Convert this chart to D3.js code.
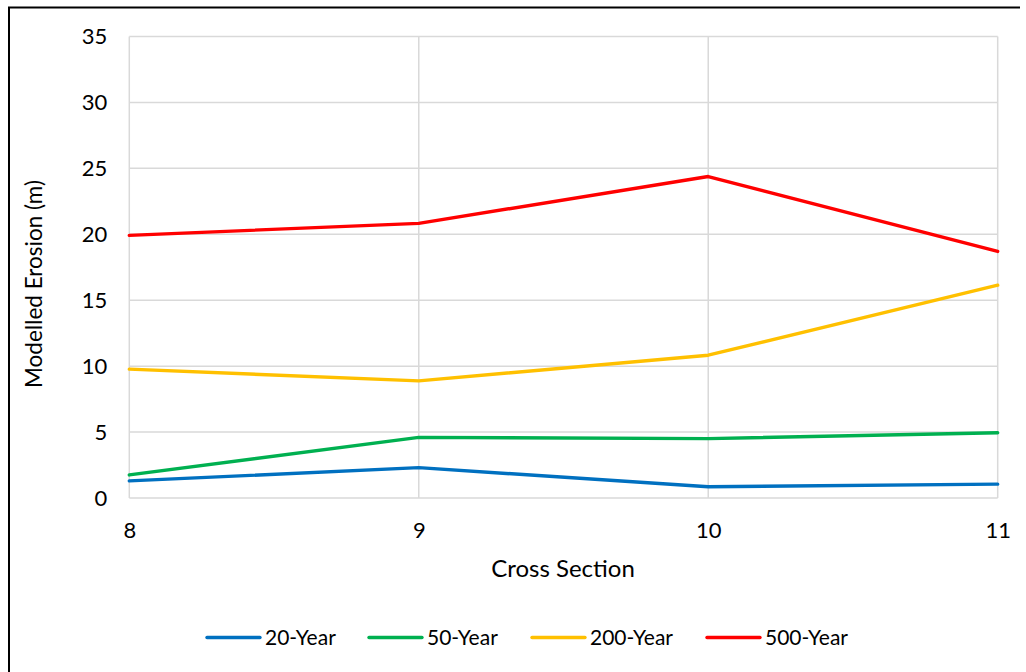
<!DOCTYPE html>
<html>
<head>
<meta charset="utf-8">
<script src="https://cdn.jsdelivr.net/npm/d3@7"></script>
<style>
  html, body { margin: 0; padding: 0; background: #fff; }
  svg { display: block; font-family: Lato, "Open Sans", sans-serif; }
</style>
</head>
<body>
<svg id="chart" width="1026" height="672"></svg>
<script>
const crossSections = [8, 9, 10, 11];
const yTicks = [0, 5, 10, 15, 20, 25, 30, 35];
const seriesNames = ["20-Year", "50-Year", "200-Year", "500-Year"];
const seriesColors = ["#0070C0", "#00B050", "#FFC000", "#FF0000"];
const year20 = [1.3, 2.3, 0.85, 1.05];
const year50 = [1.75, 4.6, 4.5, 4.95];
const year200 = [9.77, 8.88, 10.83, 16.14];
const year500 = [19.92, 20.83, 24.38, 18.7];
const seriesValues = [year20, year50, year200, year500];

const svg = d3.select("#chart");
const margin = { left: 129.3, right: 1026 - 997.7, top: 36.5, bottom: 672 - 498 };
const x = d3.scaleLinear().domain([8, 11]).range([margin.left, 1026 - margin.right]);
const y = d3.scaleLinear().domain([0, 35]).range([672 - margin.bottom, margin.top]);

// outer frame (top & left visible)
svg.append("path").attr("d", "M9,672 L9,7.5 L1020,7.5")
  .attr("fill", "none").attr("stroke", "#000").attr("stroke-width", 2);

// gridlines
const grid = svg.append("g");
grid.selectAll("line.h").data(yTicks).enter().append("line")
  .attr("x1", x(8)).attr("x2", x(11))
  .attr("y1", d => y(d)).attr("y2", d => y(d))
  .attr("stroke", "#d9d9d9").attr("stroke-width", 1.5);
grid.selectAll("line.v").data(crossSections).enter().append("line")
  .attr("y1", y(0)).attr("y2", y(35))
  .attr("x1", d => x(d)).attr("x2", d => x(d))
  .attr("stroke", "#d9d9d9").attr("stroke-width", 1.5);

// axes
const yAxis = d3.axisLeft(y).tickValues(yTicks).tickSize(0).tickPadding(22);
const gy = svg.append("g").attr("transform", `translate(${x(8)},0)`).call(yAxis);
gy.select(".domain").remove();
gy.selectAll("text").attr("font-size", 22).attr("fill", "#000")
  .attr("font-family", "Lato, 'Open Sans', sans-serif");

const xAxis = d3.axisBottom(x).tickValues(crossSections).tickFormat(d3.format("d")).tickSize(0).tickPadding(24);
const gx = svg.append("g").attr("transform", `translate(0,${y(0)})`).call(xAxis);
gx.select(".domain").remove();
gx.selectAll("text").attr("font-size", 22).attr("fill", "#000")
  .attr("font-family", "Lato, 'Open Sans', sans-serif");

// axis titles
svg.append("text").attr("x", 563).attr("y", 577).attr("text-anchor", "middle")
  .attr("font-size", 24).attr("fill", "#000").text("Cross Section");
svg.append("text").attr("transform", "translate(42,284) rotate(-90)")
  .attr("text-anchor", "middle").attr("font-size", 22.5).attr("fill", "#000")
  .text("Modelled Erosion (m)");

// lines
const line = d3.line().x((d, i) => x(crossSections[i])).y(d => y(d));
svg.append("g").selectAll("path").data(seriesValues).enter().append("path")
  .attr("d", d => line(d)).attr("fill", "none")
  .attr("stroke", (d, i) => seriesColors[i]).attr("stroke-width", 3.4)
  .attr("stroke-linejoin", "round").attr("stroke-linecap", "round");

// legend
const legendX = [207, 369, 532, 707];
const lg = svg.append("g").selectAll("g").data(seriesNames).enter().append("g")
  .attr("transform", (d, i) => `translate(${legendX[i]},637.5)`);
lg.append("line").attr("x1", 0).attr("x2", 53).attr("y1", 0).attr("y2", 0)
  .attr("stroke", (d, i) => seriesColors[i]).attr("stroke-width", 3.4).attr("stroke-linecap", "round");
lg.append("text").attr("x", 58).attr("y", 7.5).attr("font-size", 21).attr("fill", "#000").text(d => d);
</script>
</body>
</html>
